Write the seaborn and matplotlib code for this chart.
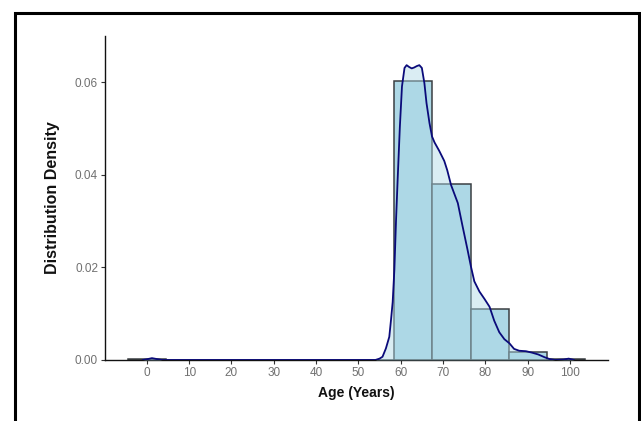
import numpy as np
import pandas as pd
import matplotlib
matplotlib.use("Agg")
import matplotlib.pyplot as plt
from matplotlib.patches import Rectangle
from matplotlib import font_manager
import seaborn as sns

# ---- data ----
bin_centers = [0, 63, 72, 81, 90, 99]
bin_density = [0.0002, 0.0602, 0.0380, 0.01095, 0.00173, 0.00015]
bin_edges = [-4.5, 4.5, 13.5, 22.5, 31.5, 40.5, 49.5, 58.5, 67.5, 76.5, 85.5, 94.5, 103.5]

kde_age = [-1.0, 0.2, 1.2, 2.4, 3.6, 10, 20, 30, 40, 50, 54.0, 55.0, 55.7, 56.5, 57.3,
           57.7, 58.1, 58.5, 58.9, 59.3, 59.8, 60.3, 60.9, 61.4, 62.0, 62.6, 63.2,
           63.8, 64.4, 65.0, 65.6, 66.1, 66.8, 67.4, 68.0, 69.1, 70.3, 71.0, 71.9,
           73.5, 74.6, 75.8, 76.6, 77.4, 78.6, 79.8, 81.0, 82.1, 83.3, 84.5, 85.7,
           86.8, 88.0, 89.6, 91.0, 92.5, 94.0, 95.2, 96.5, 98.5, 99.7, 101.0]
kde_dens = [0.0, 0.0002, 0.0004, 0.0002, 0.0, 0.0, 0.0, 0.0, 0.0, 0.0, 0.0, 0.0003,
            0.0007, 0.0025, 0.0050, 0.0086, 0.0125, 0.0195, 0.0303, 0.0395, 0.0504,
            0.0591, 0.0631, 0.0637, 0.0633, 0.0630, 0.0632, 0.0635, 0.0637, 0.0631,
            0.0598, 0.0555, 0.0512, 0.0483, 0.0470, 0.0452, 0.0430, 0.0410, 0.0378,
            0.0339, 0.0290, 0.0238, 0.0202, 0.0170, 0.0148, 0.0132, 0.0115, 0.0085,
            0.0060, 0.0045, 0.0036, 0.0024, 0.0020, 0.0019, 0.0016, 0.0012, 0.0006,
            0.0002, 0.0, 0.0001, 0.0003, 0.0]

x_ticks = [0, 10, 20, 30, 40, 50, 60, 70, 80, 90, 100]
y_ticks = [0.00, 0.02, 0.04, 0.06]
y_tick_labels = ["0.00", "0.02", "0.04", "0.06"]

sns.set_style("white")
plt.rcParams['font.family'] = ['Liberation Sans', 'DejaVu Sans']

names = {f.name for f in font_manager.fontManager.ttflist}
narrow = 'Liberation Sans Narrow' if 'Liberation Sans Narrow' in names else 'Liberation Sans'
narrow_size_tick = 10 if narrow == 'Liberation Sans Narrow' else 8.5
narrow_size_lab = 12.5 if narrow == 'Liberation Sans Narrow' else 10

fig = plt.figure(figsize=(6.41, 4.21), dpi=100)
ax = fig.add_axes([105/641, 1 - 360/421, (608 - 105)/641, (360 - 36)/421])

hist_df = pd.DataFrame({"age": bin_centers, "dens": bin_density})
sns.histplot(data=hist_df, x="age", weights="dens", bins=bin_edges, stat="count",
             color="#ADD8E6", alpha=1.0, edgecolor="#3a3f42", linewidth=1.1, ax=ax,
             zorder=2)

kde_df = pd.DataFrame({"age": kde_age, "dens": kde_dens})
ax.fill_between(kde_df["age"], kde_df["dens"], 0, color="#ADD8E6", alpha=0.45,
                linewidth=0, zorder=3)
sns.lineplot(data=kde_df, x="age", y="dens", color="#0a0a7a", linewidth=1.3, ax=ax,
             zorder=4, sort=False)

ax.set_xlim(-9.9, 109.0)
ax.set_ylim(0, 0.070)
ax.set_xticks(x_ticks)
ax.set_yticks(y_ticks)
ax.set_yticklabels(y_tick_labels)
ax.tick_params(axis="both", length=3, width=0.8, color="#333333",
               labelcolor="#707070", pad=2, direction="out", bottom=True, left=True)
for lab in ax.get_xticklabels() + ax.get_yticklabels():
    lab.set_fontfamily(narrow)
    lab.set_fontsize(narrow_size_tick)
for s in ["top", "right"]:
    ax.spines[s].set_visible(False)
for s in ["left", "bottom"]:
    ax.spines[s].set_color("#111111")
    ax.spines[s].set_linewidth(1.0)

ax.set_xlabel("Age (Years)", fontsize=narrow_size_lab, fontweight="bold", color="#111111",
              labelpad=5, fontfamily=narrow)
ax.set_ylabel("Distribution Density", fontsize=11.5, fontweight="bold", color="#111111",
              labelpad=11)

# outer frame
fig.patches.append(Rectangle((15/641, -0.2), (639 - 15)/641, 1.2 - 13/421,
                             transform=fig.transFigure, fill=False, edgecolor="black",
                             linewidth=2.2, clip_on=False))

fig.savefig("out.png", dpi=100)
